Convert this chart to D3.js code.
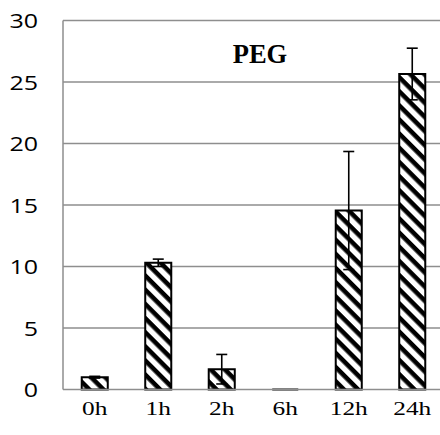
<!DOCTYPE html>
<html>
<head>
<meta charset="utf-8">
<script src="https://cdn.jsdelivr.net/npm/d3@7"></script>
<style>
  html, body { margin: 0; padding: 0; background: #fff; }
  svg { display: block; }
</style>
</head>
<body>
<svg id="chart" width="440" height="435"></svg>
<script>
// Sampling times and measured means with their errors
const categories = ["0h", "1h", "2h", "6h", "12h", "24h"];
const values = [1.0, 10.3, 1.65, 0, 14.55, 25.65];
const errors = [0.07, 0.3, 1.2, 0, 4.8, 2.1];
const yTicks = [0, 5, 10, 15, 20, 25, 30];
const title = "PEG";

const svg = d3.select("#chart");
const W = 440, H = 435;
const plotLeft = 63, plotTop = 20.5, plotBottom = 389.5, plotRight = 444;

// Diagonal hatch fill for the bars
const defs = svg.append("defs");
const pat = defs.append("pattern")
  .attr("id", "hatch")
  .attr("patternUnits", "userSpaceOnUse")
  .attr("width", 10).attr("height", 10)
  .attr("patternTransform", "rotate(45)");
pat.append("rect").attr("width", 10).attr("height", 10).attr("fill", "#fff");
pat.append("rect").attr("y", 0).attr("width", 10).attr("height", 4.6).attr("fill", "#000");

const x = d3.scaleBand()
  .domain(categories)
  .range([plotLeft, plotRight])
  .paddingInner(0.59)
  .paddingOuter(0.295);

const y = d3.scaleLinear().domain([0, 30]).range([plotBottom, plotTop]);

// Horizontal gridlines
svg.append("g")
  .selectAll("line")
  .data(yTicks.filter(d => d > 0))
  .join("line")
  .attr("x1", plotLeft).attr("x2", W)
  .attr("y1", d => y(d)).attr("y2", d => y(d))
  .attr("stroke", "#8e8e8e").attr("stroke-width", 1.5);

// Left axis line
svg.append("line")
  .attr("x1", plotLeft).attr("x2", plotLeft)
  .attr("y1", y(30)).attr("y2", y(0))
  .attr("stroke", "#8e8e8e").attr("stroke-width", 1.5);

// Y tick labels
svg.append("g")
  .selectAll("text")
  .data(yTicks)
  .join("text")
  .attr("transform", d => `translate(38,${y(d)}) scale(1.22,1)`)
  .attr("text-anchor", "end")
  .attr("dominant-baseline", "central")
  .attr("font-family", "'Open Sans', sans-serif")
  .attr("font-size", 20.5)
  .attr("fill", "#000")
  .text(d => d);

// Bars
const bars = svg.append("g");
bars.selectAll("path")
  .data(categories)
  .join("path")
  .attr("d", (c, i) => {
    const x0 = x(c), x1 = x(c) + x.bandwidth();
    const y0 = y(0), y1 = y(values[i]);
    return `M${x0},${y0}L${x0},${y1}L${x1},${y1}L${x1},${y0}Z`;
  })
  .attr("fill", "url(#hatch)")
  .attr("stroke", "#000")
  .attr("stroke-width", 2);

// Zero baseline
svg.append("line")
  .attr("x1", plotLeft).attr("x2", W)
  .attr("y1", y(0)).attr("y2", y(0))
  .attr("stroke", "#8e8e8e").attr("stroke-width", 1.5);

// Error bars
const eb = svg.append("g").attr("stroke", "#000").attr("stroke-width", 1.6);
categories.forEach((c, i) => {
  if (errors[i] <= 0) return;
  const cx = x(c) + x.bandwidth() / 2;
  const hi = y(values[i] + errors[i]);
  const lo = y(values[i] - errors[i]);
  const cap = 5.5;
  eb.append("line").attr("x1", cx).attr("x2", cx).attr("y1", hi).attr("y2", lo);
  eb.append("line").attr("x1", cx - cap).attr("x2", cx + cap).attr("y1", hi).attr("y2", hi);
  eb.append("line").attr("x1", cx - cap).attr("x2", cx + cap).attr("y1", lo).attr("y2", lo);
});

// X category labels
svg.append("g")
  .selectAll("text")
  .data(categories)
  .join("text")
  .attr("transform", c => `translate(${x(c) + x.bandwidth() / 2},415) scale(1.3,1)`)
  .attr("text-anchor", "middle")
  .attr("font-family", "'Liberation Serif', 'Times New Roman', serif")
  .attr("font-size", 19.5)
  .attr("fill", "#000")
  .text(c => c);

// Chart title inside the plot
svg.append("text")
  .attr("x", 260).attr("y", 63)
  .attr("text-anchor", "middle")
  .attr("font-family", "'Liberation Serif', 'Times New Roman', serif")
  .attr("font-weight", "bold")
  .attr("font-size", 26.5)
  .attr("fill", "#000")
  .text(title);
</script>
</body>
</html>
